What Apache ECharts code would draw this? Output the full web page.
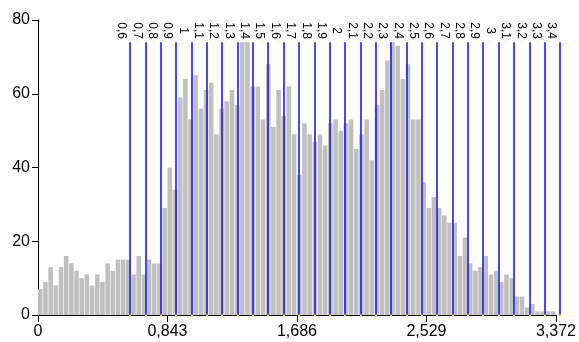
<!DOCTYPE html>
<html>
<head>
<meta charset="utf-8">
<script src="https://cdn.jsdelivr.net/npm/echarts@6/dist/echarts.min.js"></script>
<style>
  html, body { margin: 0; padding: 0; background: #fff; }
  #chart { width: 579px; height: 342px; }
</style>
</head>
<body>
<div id="chart"></div>
<script>
// Histogram counts (100 equal bins from 0 to xMax)
const binCounts = [
  7, 9, 13, 8, 13, 16, 14, 12, 10, 11,
  8, 11, 9, 14, 12, 15, 15, 15, 11, 16,
  11, 15, 14, 14, 29, 40, 34, 59, 64, 53,
  65, 56, 61, 63, 49, 56, 58, 61, 57, 74,
  74, 62, 62, 53, 68, 51, 61, 54, 62, 49,
  38, 52, 49, 47, 49, 46, 52, 53, 50, 52,
  53, 45, 49, 53, 42, 57, 61, 69, 74, 73,
  64, 68, 53, 53, 36, 29, 32, 29, 27, 25,
  25, 16, 21, 14, 12, 13, 16, 11, 12, 9,
  11, 10, 5, 5, 2, 3, 1, 1, 1, 1
];
const xMin = 0;
const xMax = 3.372;
// Threshold markers (blue vertical lines)
const thresholds = [0.6, 0.7, 0.8, 0.9, 1, 1.1, 1.2, 1.3, 1.4, 1.5, 1.6, 1.7, 1.8, 1.9, 2,
  2.1, 2.2, 2.3, 2.4, 2.5, 2.6, 2.7, 2.8, 2.9, 3, 3.1, 3.2, 3.3, 3.4];
const thresholdLabels = thresholds.map(t => String(t).replace('.', ','));
// Axis ticks
const xTickValues = [0, 0.843, 1.686, 2.529, 3.372];
const yTickValues = [0, 20, 40, 60, 80];

const binWidth = (xMax - xMin) / binCounts.length;
const barData = binCounts.map((c, i) => [xMin + i * binWidth, xMin + (i + 1) * binWidth, c]);
const lineTop = Math.max.apply(null, binCounts);
const lineData = thresholds.map((t, i) => [t, lineTop, i]);

const chart = echarts.init(document.getElementById('chart'), null, { renderer: 'canvas' });
const FONT = '"Liberation Sans", Arial, sans-serif';

chart.setOption({
  animation: false,
  backgroundColor: '#ffffff',
  grid: { left: 38, right: 22, top: 20, bottom: 27 },
  xAxis: {
    type: 'value',
    min: xTickValues[0],
    max: xTickValues[xTickValues.length - 1],
    interval: xTickValues[1] - xTickValues[0],
    splitLine: { show: false },
    axisLine: { show: true, onZero: false, lineStyle: { color: '#000', width: 1 } },
    axisTick: { show: true, length: 7, lineStyle: { color: '#000' } },
    axisLabel: {
      margin: 9, color: '#000', fontSize: 16, fontFamily: FONT,
      showMinLabel: true, showMaxLabel: true,
      formatter: v => (Math.abs(v) < 1e-9 ? '0' : v.toFixed(3).replace('.', ','))
    }
  },
  yAxis: {
    type: 'value',
    min: yTickValues[0],
    max: yTickValues[yTickValues.length - 1],
    interval: yTickValues[1] - yTickValues[0],
    splitLine: { show: false },
    axisLine: { show: true, lineStyle: { color: '#000', width: 1 } },
    axisTick: { show: true, length: 6, lineStyle: { color: '#000' } },
    axisLabel: { margin: 8, color: '#000', fontSize: 16, fontFamily: FONT }
  },
  series: [
    {
      type: 'custom',
      data: barData,
      encode: { x: [0, 1], y: 2 },
      renderItem: function (params, api) {
        const p0 = api.coord([api.value(0), api.value(2)]);
        const p1 = api.coord([api.value(1), 0]);
        return {
          type: 'rect',
          shape: { x: p0[0], y: p0[1], width: Math.max(0, p1[0] - p0[0] - 0.6), height: p1[1] - p0[1] },
          style: { fill: '#c0c0c0' }
        };
      }
    },
    {
      type: 'custom',
      data: lineData,
      clip: false,
      encode: { x: 0, y: 1 },
      z: 5,
      renderItem: function (params, api) {
        const idx = api.value(2);
        const top = api.coord([api.value(0), api.value(1)]);
        const bot = api.coord([api.value(0), 0]);
        const lx = Math.round(top[0]);
        return {
          type: 'group',
          children: [
            {
              type: 'line',
              shape: { x1: lx, y1: top[1], x2: lx, y2: bot[1] },
              style: { stroke: '#1a1aff', lineWidth: 1.6 }
            },
            {
              type: 'rect',
              shape: { x: lx - 1, y: bot[1] - 0.5, width: 2, height: 1.5 },
              style: { fill: '#e8e000' }
            },
            {
              type: 'text',
              x: lx - 8.5,
              y: top[1] - 11.5,
              rotation: -Math.PI / 2,
              style: {
                text: thresholdLabels[idx],
                fill: '#000',
                font: '12px ' + FONT,
                align: 'center',
                verticalAlign: 'middle'
              }
            }
          ]
        };
      }
    }
  ]
});
</script>
</body>
</html>
